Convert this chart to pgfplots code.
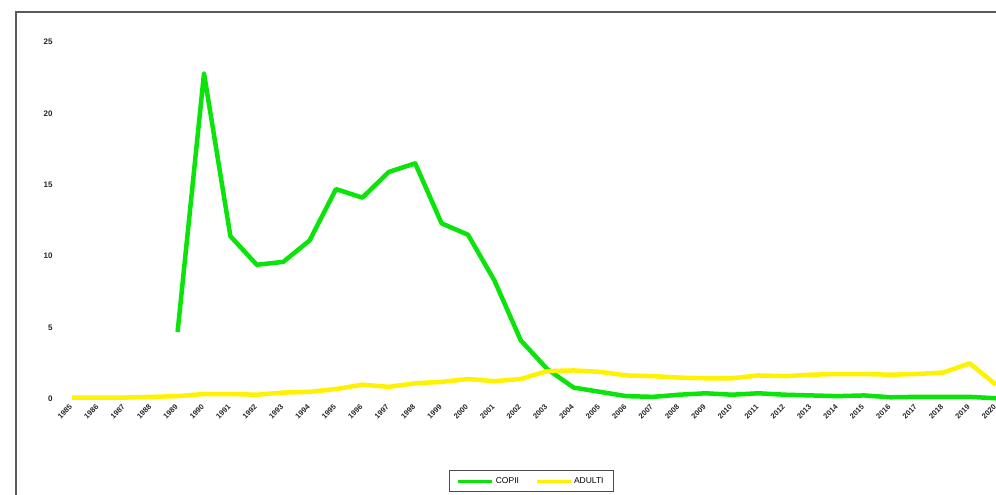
\documentclass[border=0pt]{standalone}
\usepackage{fontspec}
\setmainfont{Liberation Sans}
\usepackage{pgfplots}
\pgfplotsset{compat=1.18}
\definecolor{cgreen}{RGB}{10,228,10}
\definecolor{cyellow}{RGB}{255,242,0}
\begin{document}
\begin{tikzpicture}[x=1pt,y=1pt]
\useasboundingbox (0,0) rectangle (996,495);
\fill[white] (0,0) rectangle (996,495);
\draw[black!65, line width=1.2pt] (16,-10) -- (16,483) -- (1010,483);
\begin{axis}[
  at={(72pt,96pt)}, anchor=south west,
  scale only axis, width=924pt, height=357pt,
  xmin=1985, xmax=2020, ymin=0, ymax=25,
  axis line style={draw=none}, tick style={draw=none},
  xtick={1985,1986,...,2020},
  ytick={0,5,10,15,20,25},
  /pgf/number format/assume math mode=true,
  xticklabel={\pgfmathprintnumber[1000 sep={}]{\tick}},
  xticklabel style={rotate=45, anchor=east, inner sep=0.5pt, font=\fontsize{7.5}{8}\selectfont\bfseries, yshift=-4pt, xshift=-5pt, text=black!85},
  yticklabel style={font=\fontsize{8}{9}\selectfont\bfseries, xshift=-16pt, text=black!85},
  clip=false,
  legend columns=2,
  legend style={at={(0.497,-0.2297)}, anchor=center, draw=black!70, line width=0.6pt,
    font=\fontsize{8.5}{9}\selectfont, inner xsep=8pt, inner ysep=5pt,
    /tikz/every even column/.append style={column sep=14pt}},
  legend image code/.code={\draw[#1, line width=3pt] (0pt,0pt) -- (34pt,0pt);},
]
\addplot[cgreen, line width=4.5pt, line join=round] coordinates {
(1989,4.7) (1990,22.8) (1991,11.4) (1992,9.4) (1993,9.6) (1994,11.1)
(1995,14.7) (1996,14.1) (1997,15.9) (1998,16.5) (1999,12.3) (2000,11.5)
(2001,8.3) (2002,4.1) (2003,2.1) (2004,0.8) (2005,0.5) (2006,0.2)
(2007,0.15) (2008,0.3) (2009,0.4) (2010,0.3) (2011,0.4) (2012,0.3)
(2013,0.25) (2014,0.2) (2015,0.25) (2016,0.12) (2017,0.15) (2018,0.15)
(2019,0.15) (2020,0.05)
};
\addlegendentry{COPII}
\addplot[cyellow, line width=4.5pt, line join=round] coordinates {
(1985,0.1) (1986,0.1) (1987,0.1) (1988,0.15) (1989,0.2) (1990,0.35)
(1991,0.35) (1992,0.3) (1993,0.45) (1994,0.5) (1995,0.7) (1996,1.0)
(1997,0.85) (1998,1.1) (1999,1.2) (2000,1.4) (2001,1.25) (2002,1.4)
(2003,1.95) (2004,2.0) (2005,1.9) (2006,1.65) (2007,1.6) (2008,1.5)
(2009,1.45) (2010,1.45) (2011,1.65) (2012,1.6) (2013,1.7) (2014,1.75)
(2015,1.75) (2016,1.7) (2017,1.75) (2018,1.85) (2019,2.5) (2020,1.0)
};
\addlegendentry{ADULTI}
\end{axis}
\end{tikzpicture}
\end{document}
